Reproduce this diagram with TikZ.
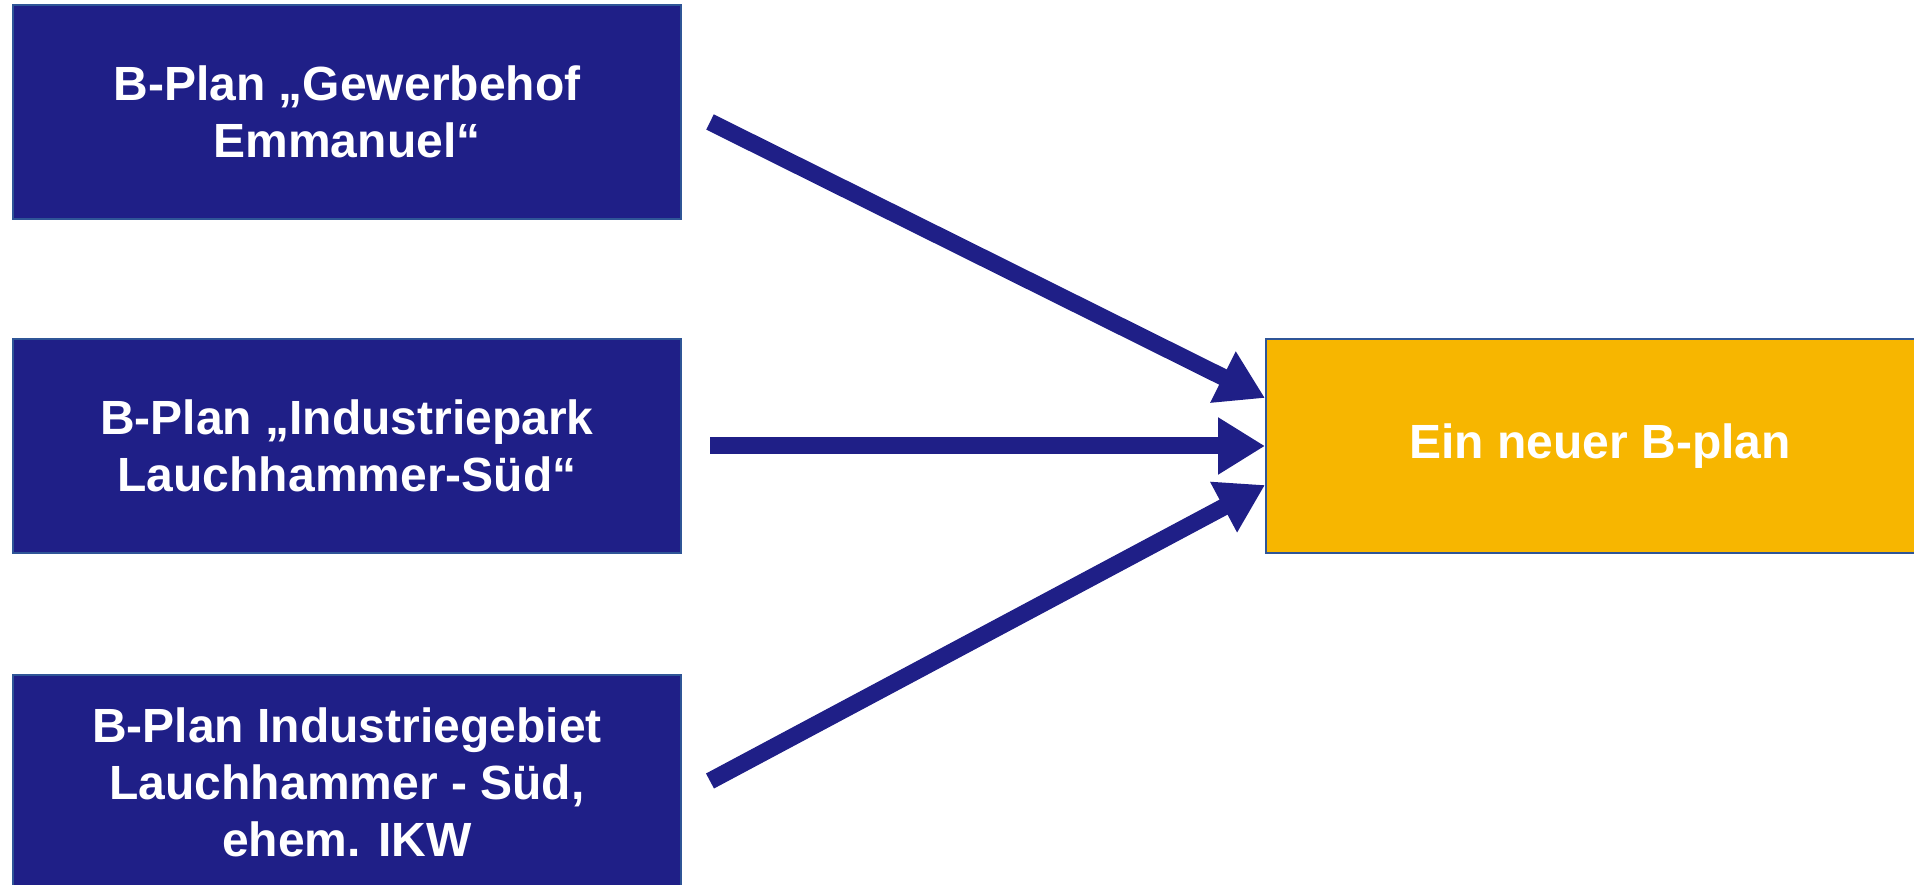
\documentclass[tikz,border=0pt]{standalone}
\usepackage{fontspec}
\setmainfont{Liberation Sans}
\usetikzlibrary{arrows.meta}

\definecolor{planblue}{RGB}{31,31,135}
\definecolor{planedge}{RGB}{47,85,151}
\definecolor{planorange}{RGB}{247,182,0}

\tikzset{
    planbox/.style={draw=planedge, line width=1pt, fill=planblue, text=white,
        minimum width=334pt, minimum height=107pt, align=center,
        font=\bfseries\fontsize{24}{28.5}\selectfont},
    planarrow/.style={draw=planblue, line width=8.5pt,
        -{Triangle[length=23.5pt, width=27pt]}}
}

\begin{document}
\begin{tikzpicture}[x=0.5pt, y=0.5pt]
    \useasboundingbox (0, 0) rectangle (1914, 884);

    \node [planbox] (gewerbehof) at (347, 772) {B-Plan „Gewerbehof\\Emmanuel“};
    \node [planbox] (industriepark) at (347, 438) {B-Plan „Industriepark\\Lauchhammer-Süd“};
    \node [planbox] (ikw) at (347, 102) {B-Plan Industriegebiet\\Lauchhammer - Süd,\\ehem. IKW};
    \node [planbox, fill=planorange] (neu) at (1600, 438) {Ein neuer B-plan};

    \coordinate (s1) at (710, 762);
    \coordinate (s2) at (710, 438);
    \coordinate (s3) at (710, 103);
    \coordinate (e1) at ([yshift=24pt] neu.west);
    \coordinate (e3) at ([yshift=-19.5pt] neu.west);

    \draw [planarrow] (s1) -- (e1);
    \draw [planarrow] (s2) -- (neu.west);
    \draw [planarrow] (s3) -- (e3);
\end{tikzpicture}
\end{document}
